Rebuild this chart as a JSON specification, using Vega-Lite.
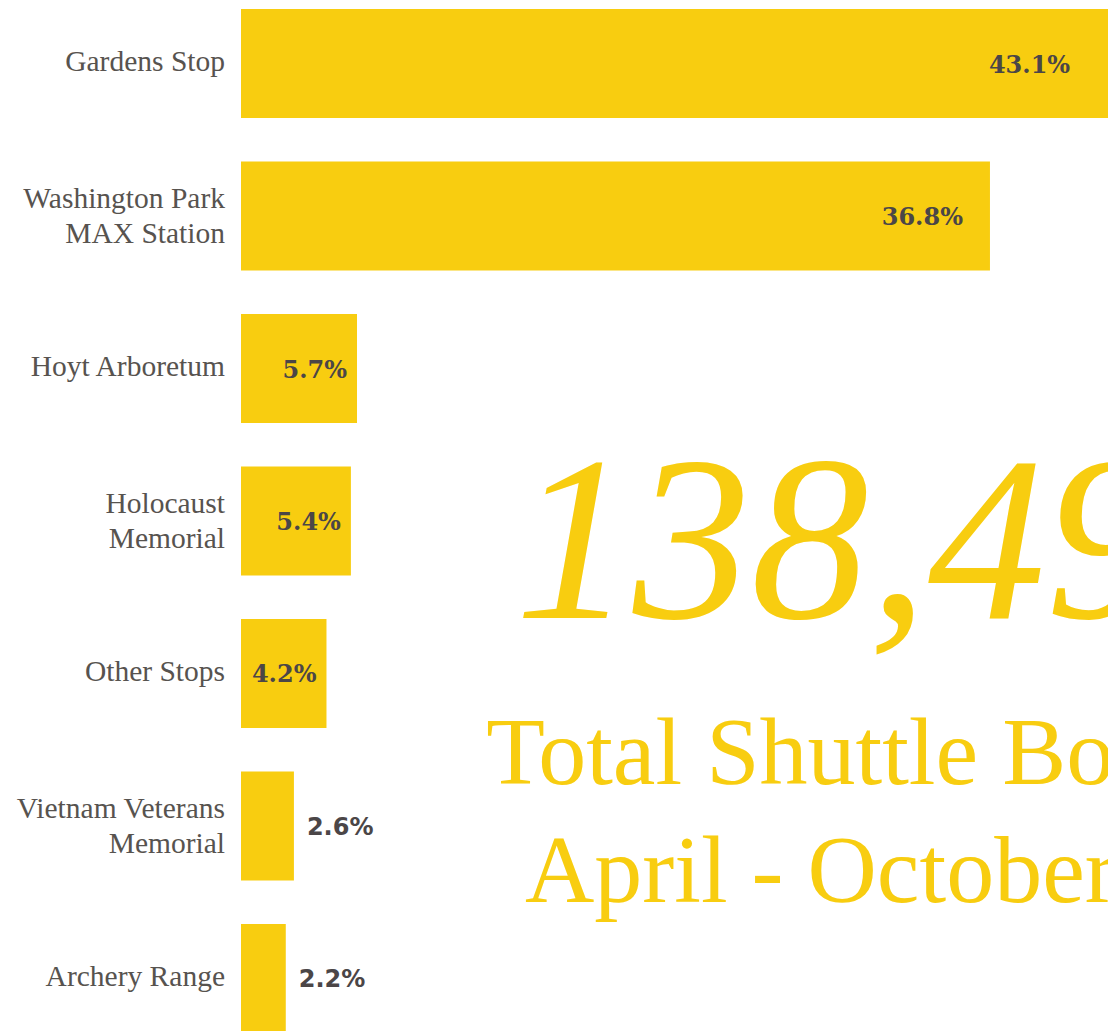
{
  "$schema": "https://vega.github.io/schema/vega-lite/v6.json",
  "autosize": {"type": "none"},
  "padding": {"left": 241, "top": 9, "right": 0, "bottom": 0},
  "width": 867,
  "height": 1022,
  "background": "#ffffff",
  "config": {"view": {"stroke": null}},
  "data": {
    "values": [
      {"stop": "Gardens Stop", "pct": 43.1, "label": "43.1%"},
      {"stop": "Washington Park\nMAX Station", "pct": 36.8, "label": "36.8%"},
      {"stop": "Hoyt Arboretum", "pct": 5.7, "label": "5.7%"},
      {"stop": "Holocaust\nMemorial", "pct": 5.4, "label": "5.4%"},
      {"stop": "Other Stops", "pct": 4.2, "label": "4.2%"},
      {"stop": "Vietnam Veterans\nMemorial", "pct": 2.6, "label": "2.6%"},
      {"stop": "Archery Range", "pct": 2.2, "label": "2.2%"}
    ]
  },
  "encoding": {
    "y": {
      "field": "stop", "type": "nominal", "sort": null, "axis": null,
      "scale": {"range": [0, 1024], "paddingInner": 0.285, "paddingOuter": 0}
    }
  },
  "layer": [
    {
      "mark": {"type": "bar", "color": "#F8CD10"},
      "encoding": {
        "x": {"field": "pct", "type": "quantitative", "axis": null, "scale": {"domain": [0, 42.6], "nice": false}}
      }
    },
    {
      "transform": [{"filter": "indexof(datum.stop, '\\n') < 0"}],
      "mark": {"type": "text", "align": "right", "baseline": "middle", "dx": -16, "dy": -1.5, "font": "Liberation Serif", "fontSize": 29.5, "lineHeight": 35, "lineBreak": "\n", "color": "#57534f"},
      "encoding": {
        "x": {"datum": 0, "type": "quantitative"},
        "text": {"field": "stop"}
      }
    },
    {
      "transform": [{"filter": "indexof(datum.stop, '\\n') >= 0"}],
      "mark": {"type": "text", "align": "right", "baseline": "middle", "dx": -16, "dy": -17, "font": "Liberation Serif", "fontSize": 29.5, "lineHeight": 35, "lineBreak": "\n", "color": "#57534f"},
      "encoding": {
        "x": {"datum": 0, "type": "quantitative"},
        "text": {"field": "stop"}
      }
    },
    {
      "transform": [{"filter": "datum.pct > 40"}],
      "mark": {"type": "text", "align": "right", "baseline": "middle", "dx": -48, "dy": 2, "font": "DejaVu Serif", "fontWeight": "bold", "fontSize": 24, "color": "#4b4647"},
      "encoding": {"x": {"field": "pct", "type": "quantitative"}, "text": {"field": "label"}}
    },
    {
      "transform": [{"filter": "datum.pct > 30 && datum.pct <= 40"}],
      "mark": {"type": "text", "align": "right", "baseline": "middle", "dx": -27, "dy": 2, "font": "DejaVu Serif", "fontWeight": "bold", "fontSize": 24, "color": "#4b4647"},
      "encoding": {"x": {"field": "pct", "type": "quantitative"}, "text": {"field": "label"}}
    },
    {
      "transform": [{"filter": "datum.pct > 4 && datum.pct <= 30"}],
      "mark": {"type": "text", "align": "right", "baseline": "middle", "dx": -10, "dy": 2, "font": "DejaVu Serif", "fontWeight": "bold", "fontSize": 24, "color": "#4b4647"},
      "encoding": {"x": {"field": "pct", "type": "quantitative"}, "text": {"field": "label"}}
    },
    {
      "transform": [{"filter": "datum.pct <= 4"}],
      "mark": {"type": "text", "align": "left", "baseline": "middle", "dx": 13, "dy": 2, "font": "DejaVu Sans", "fontWeight": "bold", "fontSize": 24, "color": "#4b4647"},
      "encoding": {"x": {"field": "pct", "type": "quantitative"}, "text": {"field": "label"}}
    },
    {
      "data": {"values": [{"t": "138,49"}]},
      "mark": {"type": "text", "align": "left", "baseline": "alphabetic", "dy": 96.5, "font": "Liberation Serif", "fontStyle": "italic", "fontSize": 236, "color": "#F8CD10"},
      "encoding": {
        "x": {"datum": 13.45, "type": "quantitative"},
        "y": {"datum": "Holocaust\nMemorial"},
        "text": {"field": "t"}
      }
    },
    {
      "data": {"values": [{"t": "Total Shuttle Boardings"}]},
      "mark": {"type": "text", "align": "left", "baseline": "alphabetic", "dy": -41.5, "font": "Liberation Serif", "fontSize": 96, "color": "#F8CD10"},
      "encoding": {
        "x": {"datum": 12.05, "type": "quantitative"},
        "y": {"datum": "Vietnam Veterans\nMemorial"},
        "text": {"field": "t"}
      }
    },
    {
      "data": {"values": [{"t": "April - October"}]},
      "mark": {"type": "text", "align": "left", "baseline": "alphabetic", "dy": -76.5, "font": "Liberation Serif", "fontSize": 96, "color": "#F8CD10"},
      "encoding": {
        "x": {"datum": 13.95, "type": "quantitative"},
        "y": {"datum": "Archery Range"},
        "text": {"field": "t"}
      }
    }
  ]
}
